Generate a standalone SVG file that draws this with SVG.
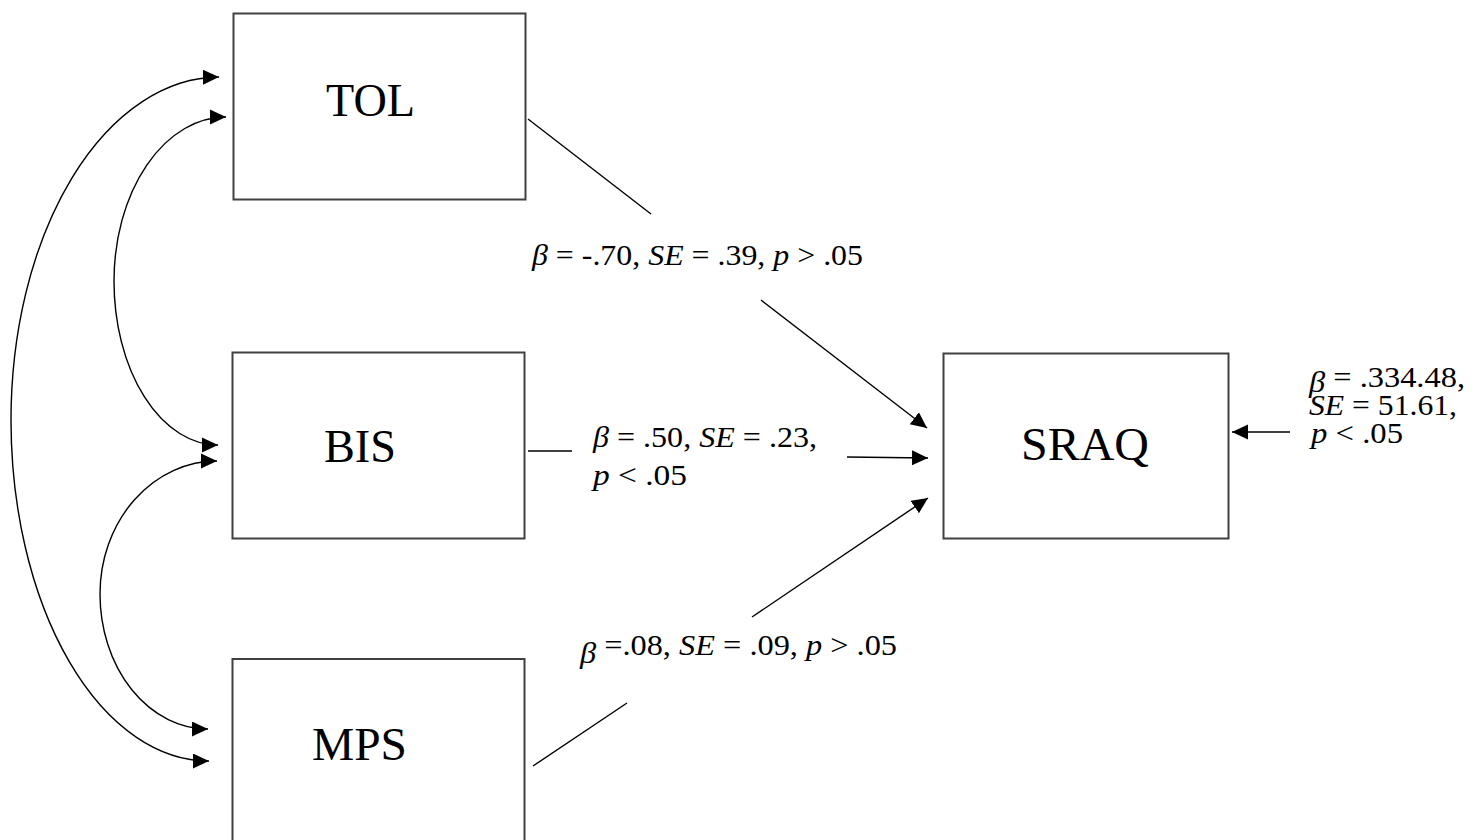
<svg xmlns="http://www.w3.org/2000/svg" width="1480" height="840" viewBox="0 0 1480 840">
<style>
.box{fill:#ffffff;stroke:#404040;stroke-width:2}
.name{font-family:"Liberation Serif","Times New Roman",serif;font-size:47px;fill:#000}
.lbl{font-family:"Liberation Serif","Times New Roman",serif;font-size:30px;fill:#000}
.it{font-style:italic}
.ln{fill:none;stroke:#000;stroke-width:1.4}
.arr{fill:none;stroke:#000;stroke-width:1.4;marker-end:url(#ah)}
.cv{fill:none;stroke:#000;stroke-width:1.4;marker-start:url(#ah);marker-end:url(#ah)}
</style>
<defs>
<marker id="ah" markerUnits="userSpaceOnUse" markerWidth="18" markerHeight="18" refX="16" refY="7.5" orient="auto-start-reverse">
<path d="M0,0 L16,7.5 L0,15 z" fill="#000"/>
</marker>
</defs>
<rect x="0" y="0" width="1480" height="840" fill="#ffffff"/>
<g id="connectors">
<path class="cv" d="M219,77 A209 343 0 0 0 11,420 A198 341 0 0 0 209,761"/>
<path class="cv" d="M226,117 A112 164 0 0 0 114,281 A104 164 0 0 0 218,445"/>
<path class="cv" d="M217,461 A117 133 0 0 0 100,594 A108 135 0 0 0 208,729"/>
<line class="ln" x1="528" y1="119" x2="651" y2="214"/>
<line class="arr" x1="761" y1="300" x2="927" y2="428"/>
<line class="ln" x1="528" y1="451" x2="572" y2="451"/>
<line class="arr" x1="847" y1="457" x2="928" y2="458"/>
<line class="ln" x1="533" y1="766" x2="627" y2="703"/>
<line class="arr" x1="752" y1="617" x2="928" y2="498"/>
<line class="arr" x1="1290" y1="432" x2="1232" y2="432"/>
<text class="lbl" x="532" y="265" textLength="331" lengthAdjust="spacingAndGlyphs"><tspan class="it">β</tspan> = -.70, <tspan class="it">SE</tspan> = .39, <tspan class="it">p</tspan> &gt; .05</text>
<text class="lbl" x="593" y="447" textLength="224" lengthAdjust="spacingAndGlyphs"><tspan class="it">β</tspan> = .50, <tspan class="it">SE</tspan> = .23,</text>
<text class="lbl" x="593" y="485" textLength="94" lengthAdjust="spacingAndGlyphs"><tspan class="it">p</tspan> &lt; .05</text>
<text class="lbl" x="580" y="655" textLength="317" lengthAdjust="spacingAndGlyphs"><tspan class="it" dy="8">β</tspan><tspan dy="-8"> =.08, </tspan><tspan class="it">SE</tspan> = .09, <tspan class="it">p</tspan> &gt; .05</text>
<text class="lbl" x="1309" y="387" textLength="156" lengthAdjust="spacingAndGlyphs"><tspan class="it" dy="5">β</tspan><tspan dy="-5"> = .334.48,</tspan></text>
<text class="lbl" x="1309" y="415" textLength="148" lengthAdjust="spacingAndGlyphs"><tspan class="it">SE</tspan> = 51.61,</text>
<text class="lbl" x="1311" y="443" textLength="92" lengthAdjust="spacingAndGlyphs"><tspan class="it">p</tspan> &lt; .05</text>
</g>
<g id="TOL">
<rect class="box" x="233.5" y="13.5" width="292" height="186"/>
<text class="name" x="326" y="116" textLength="89" lengthAdjust="spacingAndGlyphs">TOL</text>
</g>
<g id="BIS">
<rect class="box" x="232.5" y="352.5" width="292" height="186"/>
<text class="name" x="324" y="462" textLength="72" lengthAdjust="spacingAndGlyphs">BIS</text>
</g>
<g id="MPS">
<rect class="box" x="232.5" y="659" width="292" height="200"/>
<text class="name" x="312" y="760" textLength="95" lengthAdjust="spacingAndGlyphs">MPS</text>
</g>
<g id="SRAQ">
<rect class="box" x="943.5" y="353.5" width="285" height="185"/>
<text class="name" x="1021" y="460" textLength="128" lengthAdjust="spacingAndGlyphs">SRAQ</text>
</g>
</svg>
